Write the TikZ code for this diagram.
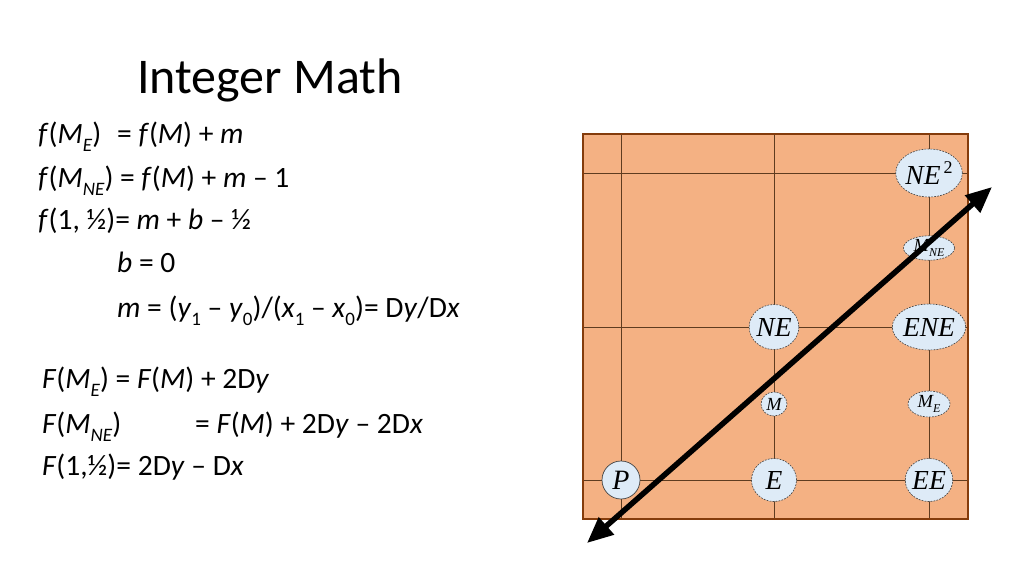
\documentclass[tikz,border=0pt]{standalone}
\usepackage{fontspec}
\setmainfont{Carlito}
\newfontfamily\tnr{Liberation Serif}
\usetikzlibrary{shapes.geometric,arrows.meta}
\definecolor{gridfill}{HTML}{F4B183}
\definecolor{gridline}{HTML}{5E3C20}
\definecolor{gridborder}{HTML}{843C0C}
\definecolor{nodefill}{HTML}{DEEBF7}
\definecolor{nodeline}{HTML}{404040}
\newcommand{\sbs}[1]{\raisebox{-0.3em}{\fontsize{19}{19}\selectfont #1}}
\newcommand{\gsb}[1]{\raisebox{-0.28em}{\fontsize{12}{12}\selectfont #1}}
\begin{document}
\begin{tikzpicture}[x=1pt,y=-1pt,
  eqline/.style={anchor=base west,inner sep=0pt,font=\fontsize{29.5}{29.5}\selectfont},
  pt/.style={ellipse,draw=nodeline,fill=nodefill,line width=0.6pt,dash pattern=on 1.8pt off 1.2pt,inner sep=0pt,font=\tnr\itshape\fontsize{27.5}{27.5}\selectfont},
  ptsmall/.style={pt,font=\tnr\itshape\fontsize{18.5}{18.5}\selectfont},
  gline/.style={draw=gridline,line width=0.7pt},
  bigarrow/.style={line width=5.5pt,{Triangle[length=26pt,width=22pt]}-{Triangle[length=26pt,width=22pt]}}
]
\useasboundingbox (0,0) rectangle (1024,576);
% title
\node[anchor=base west,inner sep=0pt,font=\fontsize{50}{50}\selectfont] (title) at (137,93) {Integer Math};
% equations
\node[eqline] (l1) at (38,143) {\makebox[79pt][l]{\textit{f}(\textit{M}\sbs{\textit{E}})}= \textit{f}(\textit{M}) + \textit{m}};
\node[eqline] (l2) at (38,187) {\textit{f}(\textit{M}\sbs{\textit{NE}}) = \textit{f}(\textit{M}) + \textit{m} – 1};
\node[eqline] (l3) at (38,229) {\textit{f}(1, ½)= \textit{m} + \textit{b} – ½};
\node[eqline] (l4) at (117,272) {\textit{b} = 0};
\node[eqline] (l5) at (117,317) {\textit{m} = (\textit{y}\sbs{1} – \textit{y}\sbs{0})/(\textit{x}\sbs{1} – \textit{x}\sbs{0})= D\textit{y}/D\textit{x}};
\node[eqline] (l6) at (42,388) {\textit{F}(\textit{M}\sbs{\textit{E}}) = \textit{F}(\textit{M}) + 2D\textit{y}};
\node[eqline] (l7) at (42,433) {\makebox[153pt][l]{\textit{F}(\textit{M}\sbs{\textit{NE}})}= \textit{F}(\textit{M}) + 2D\textit{y} – 2D\textit{x}};
\node[eqline] (l8) at (42,475) {\textit{F}(1,½)= 2D\textit{y} – D\textit{x}};
% grid
\fill[gridfill] (583,134) rectangle (968,519);
\foreach \gx in {621,774,929} \draw[gline] (\gx,134) -- (\gx,519);
\foreach \gy in {173,327,480} \draw[gline] (583,\gy) -- (968,\gy);
\draw[gridborder,line width=2.5pt] (583,134) rectangle (968,519);
% points
\node[circle,draw=nodeline,fill=nodefill,line width=0.7pt,minimum size=38pt,inner sep=0pt,font=\tnr\itshape\fontsize{28}{28}\selectfont] (P) at (621,480) {P};
\node[pt,minimum width=45pt,minimum height=43pt] (E) at (774,480) {E};
\node[pt,minimum width=46pt,minimum height=43pt] (EE) at (929,480) {EE};
\node[ptsmall,minimum width=26pt,minimum height=24pt] (M) at (774,404) {M};
\node[ptsmall,minimum width=42pt,minimum height=26pt] (ME) at (929,404) {M\gsb{E}};
\node[pt,minimum width=45pt,minimum height=45pt] (NE) at (774,327) {NE};
\node[pt,minimum width=64pt,minimum height=46pt] (ENE) at (929,327) {ENE};
\node[ptsmall,minimum width=51pt,minimum height=24pt] (MNE) at (929,248) {M\gsb{NE}};
\node[pt,minimum width=65pt,minimum height=48pt] (NE2) at (929,173) {NE\raisebox{0.4em}{\upshape\fontsize{18}{18}\selectfont\,2}};
% line
\coordinate (a1) at (587,543);
\coordinate (a2) at (992,187);
\draw[bigarrow] (a1) -- (a2);
\end{tikzpicture}
\end{document}
